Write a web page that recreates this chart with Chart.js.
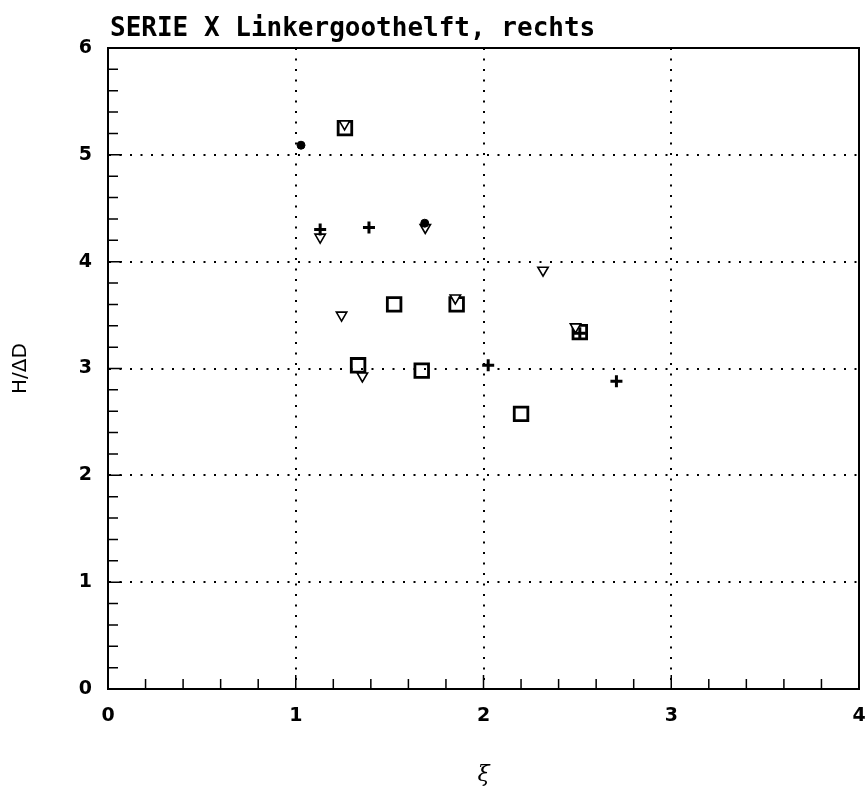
<!DOCTYPE html>
<html>
<head>
<meta charset="utf-8">
<script src="https://cdn.jsdelivr.net/npm/chart.js@4/dist/chart.umd.min.js"></script>
<style>
  html, body { margin: 0; padding: 0; background: #fff; }
  #wrap { width: 866px; height: 799px; }
</style>
</head>
<body>
<div id="wrap"><canvas id="chart" width="866" height="799"></canvas></div>
<script>
// values
const titleText = 'SERIE X Linkergoothelft, rechts';

const squareX = [1.262, 1.524, 1.857, 1.332, 1.671, 2.200, 2.513];
const squareY = [5.25, 3.60, 3.60, 3.03, 2.98, 2.575, 3.34];

const triangleX = [1.260, 1.130, 1.690, 1.244, 1.850, 1.355, 2.317, 2.490];
const triangleY = [5.29, 4.23, 4.32, 3.50, 3.66, 2.93, 3.92, 3.39];

const plusX = [1.130, 1.390, 2.025, 2.708, 2.513];
const plusY = [4.30, 4.32, 3.03, 2.88, 3.33];

const dotX = [1.028, 1.687];
const dotY = [5.09, 4.36];

const xTicks = [0, 1, 2, 3, 4];
const yTicks = [0, 1, 2, 3, 4, 5, 6];

function toPoints(xs, ys) {
    return xs.map((x, i) => ({ x: x, y: ys[i] }));
}

// title, frame on top/right and inward minor ticks on bottom/left
const framePlugin = {
    id: 'frame',
    afterDraw(chart) {
        const ctx = chart.ctx;
        const a = chart.chartArea;
        const xs = chart.scales.x;
        const ys = chart.scales.y;
        ctx.save();
        ctx.fillStyle = '#000';
        ctx.font = 'bold 26px "DejaVu Sans Mono"';
        ctx.textAlign = 'left';
        ctx.textBaseline = 'alphabetic';
        ctx.fillText(titleText, a.left + 2, a.top - 12);

        ctx.strokeStyle = '#000';
        ctx.lineWidth = 2;
        ctx.beginPath();
        ctx.moveTo(a.left, a.top);
        ctx.lineTo(a.right, a.top);
        ctx.lineTo(a.right, a.bottom);
        ctx.stroke();

        ctx.lineWidth = 1.5;
        ctx.beginPath();
        for (let i = 1; i < 20; i++) {
            const px = xs.getPixelForValue(i * 0.2);
            const len = i % 5 === 0 ? 14 : 10;
            ctx.moveTo(px, a.bottom);
            ctx.lineTo(px, a.bottom - len);
        }
        for (let i = 1; i < 30; i++) {
            const py = ys.getPixelForValue(i * 0.2);
            const len = i % 5 === 0 ? 14 : 10;
            ctx.moveTo(a.left, py);
            ctx.lineTo(a.left + len, py);
        }
        ctx.stroke();
        ctx.restore();
    }
};

const gridStyle = {
    color: '#000',
    lineWidth: 2,
    drawTicks: false,
};

const borderStyle = {
    display: true,
    color: '#000',
    width: 2,
    dash: [2, 8.5],
};

const chart = new Chart(document.getElementById('chart').getContext('2d'), {
    type: 'scatter',
    data: {
        datasets: [{
            label: 'dots',
            data: toPoints(dotX, dotY),
            pointStyle: 'circle',
            pointRadius: 4,
            backgroundColor: '#000',
            borderColor: '#000',
            borderWidth: 1,
        }, {
            label: 'plus',
            data: toPoints(plusX, plusY),
            pointStyle: 'cross',
            pointRadius: 6,
            borderColor: '#000',
            borderWidth: 3,
        }, {
            label: 'triangles',
            data: toPoints(triangleX, triangleY),
            pointStyle: 'triangle',
            rotation: 180,
            pointRadius: 6,
            backgroundColor: '#fff',
            borderColor: '#000',
            borderWidth: 1.6,
        }, {
            label: 'squares',
            data: toPoints(squareX, squareY),
            pointStyle: 'rect',
            pointRadius: 9.6,
            backgroundColor: 'rgba(255,255,255,0)',
            borderColor: '#000',
            borderWidth: 2.8,
        }]
    },
    options: {
        responsive: false,
        animation: false,
        layout: {
            autoPadding: false,
            padding: { left: 0, right: 7, top: 48, bottom: 0 }
        },
        plugins: {
            legend: { display: false },
            tooltip: { enabled: false },
            title: { display: false }
        },
        scales: {
            x: {
                type: 'linear',
                min: 0,
                max: 4,
                afterBuildTicks: (scale) => { scale.ticks = xTicks.map(v => ({ value: v })); },
                afterFit: (scale) => {
                    scale.height = 110;
                    scale.paddingLeft = 0;
                    scale.paddingRight = 0;
                },
                grid: gridStyle,
                border: borderStyle,
                ticks: {
                    color: '#000',
                    padding: 16,
                    maxRotation: 0,
                    font: { family: 'DejaVu Sans', size: 19, weight: 'bold' },
                },
                title: {
                    display: true,
                    text: 'ξ',
                    color: '#000',
                    font: { family: 'DejaVu Serif', size: 22, style: 'italic' },
                    padding: { top: 4, bottom: 11 },
                }
            },
            y: {
                type: 'linear',
                min: 0,
                max: 6,
                afterBuildTicks: (scale) => { scale.ticks = yTicks.map(v => ({ value: v })); },
                afterFit: (scale) => {
                    scale.width = 108;
                    scale.paddingTop = 0;
                    scale.paddingBottom = 0;
                },
                grid: gridStyle,
                border: borderStyle,
                ticks: {
                    color: '#000',
                    padding: 16,
                    font: { family: 'DejaVu Sans', size: 19, weight: 'bold' },
                },
                title: {
                    display: true,
                    text: 'H/ΔD',
                    color: '#000',
                    font: { family: 'DejaVu Sans', size: 20 },
                    padding: { top: 9, bottom: 0 },
                }
            }
        }
    },
    plugins: [framePlugin]
});
</script>
</body>
</html>
